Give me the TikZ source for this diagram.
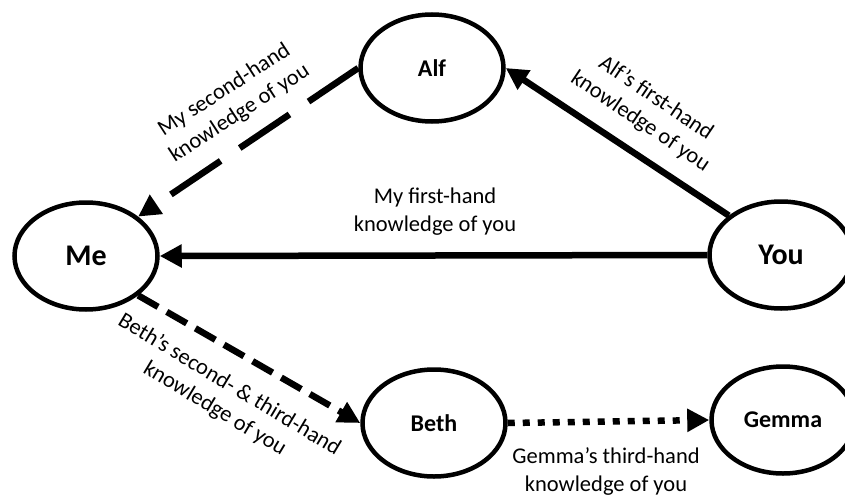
\documentclass[tikz,border=0pt]{standalone}
\usepackage{fontspec}
\setmainfont{Carlito}
\usetikzlibrary{shapes.geometric,arrows.meta}

\begin{document}
\begin{tikzpicture}[x=1pt,y=-1pt,
  person/.style={ellipse,draw,line width=4.5pt,minimum width=143pt,
    minimum height=107pt,inner sep=0pt,font=\fontsize{24}{28}\selectfont\bfseries},
  bigperson/.style={person,font=\fontsize{30}{34}\selectfont\bfseries},
  link/.style={line width=6.5pt,-{Triangle[length=22pt,width=22pt]}},
  secondhand/.style={link,dash pattern=on 60pt off 23pt},
  mixedhand/.style={link,dash pattern=on 23pt off 10pt},
  thirdhand/.style={link,dash pattern=on 7pt off 8pt},
  lbl/.style={align=center,font=\fontsize{22.5}{28}\selectfont,inner sep=0pt}
]
\useasboundingbox (0,0) rectangle (845,495);

% people
\node[bigperson] (me)    at (86,256)  {Me};
\node[bigperson] (you)   at (781,255) {You};
\node[person]    (alf)   at (432,68)  {Alf};
\node[person]    (beth)  at (434,423) {Beth};
\node[person]    (gemma) at (783,420) {Gemma};

% lines of knowledge
\draw[link]       (you.west)       -- (me.east);
\draw[link]       (you.north west) -- (alf.east);
\draw[secondhand] (alf.west)       -- (me.north east);
\draw[mixedhand]  (me.south east)  -- (beth.west);
\draw[thirdhand]  (beth.east)      -- (gemma.west);

% labels
\node[lbl] (lmefirst)  at (435,212) {My first-hand\\knowledge of you};
\node[lbl,rotate=33] (lmesecond) at (232,102) {My second-hand\\knowledge of you};
\node[lbl,rotate=-34] (lalf) at (648,110) {Alf’s first-hand\\knowledge of you};
\node[lbl,rotate=-31] (lbeth) at (222,397) {Beth’s second- \& third-hand\\knowledge of you};
\node[lbl] (lgemma) at (606,471) {Gemma’s third-hand\\knowledge of you};
\end{tikzpicture}
\end{document}
